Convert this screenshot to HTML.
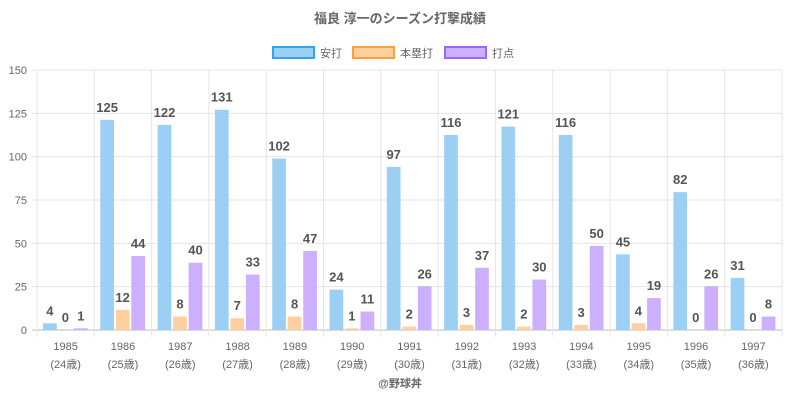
<!DOCTYPE html>
<html><head><meta charset="utf-8"><style>
body{margin:0;background:#fff;}
svg{display:block;font-family:"Liberation Sans","Noto Sans CJK JP",sans-serif;}
</style></head><body>
<svg id="c" width="800" height="400">
<text x="400" y="23" text-anchor="middle" font-size="13" font-weight="bold" fill="#666">福良 淳一のシーズン打撃成績</text>
<g>
<g><rect x="273" y="47" width="41" height="11" fill="#9ccff4" stroke="#36a2eb" stroke-width="2"/><text x="320" y="57" font-size="11" fill="#666">安打</text></g>
<g><rect x="353" y="47" width="41" height="11" fill="#ffcf9f" stroke="#ff9f40" stroke-width="2"/><text x="400" y="57" font-size="11" fill="#666">本塁打</text></g>
<g><rect x="445" y="47" width="41" height="11" fill="#ccb0fe" stroke="#9966ff" stroke-width="2"/><text x="492" y="57" font-size="11" fill="#666">打点</text></g>
</g>
<g id="grid"></g><g id="bars"></g><g id="labels"></g>
<text x="400" y="387" text-anchor="middle" font-size="11" font-weight="bold" fill="#666">@野球丼</text>
</svg>
<script>
const years=["1985","1986","1987","1988","1989","1990","1991","1992","1993","1994","1995","1996","1997"];
const ages=["(24歳)","(25歳)","(26歳)","(27歳)","(28歳)","(29歳)","(30歳)","(31歳)","(32歳)","(33歳)","(34歳)","(35歳)","(36歳)"];
const hits=[4,125,122,131,102,24,97,116,121,116,45,82,31];
const homeruns=[0,12,8,7,8,1,2,3,2,3,4,0,0];
const rbi=[1,44,40,33,47,11,26,37,30,50,19,26,8];
const yTicks=[0,25,50,75,100,125,150];
const L=37,R=782,T=70,B=330,yMax=150;
const barScale=0.97;
const cw=(R-L)/years.length;
const y=v=>B-(v/yMax)*(B-T);
const xc=i=>L+cw*i;
const NS="http://www.w3.org/2000/svg";
function mk(p,tag,at,txt){const e=document.createElementNS(NS,tag);for(const k in at)e.setAttribute(k,at[k]);if(txt!==undefined)e.textContent=txt;p.appendChild(e);return e;}
const g=document.getElementById('grid'),bg=document.getElementById('bars'),lg=document.getElementById('labels');
yTicks.forEach(t=>{
 const l=mk(g,'line',{x1:L-5,x2:R,y1:y(t),y2:y(t),stroke:t===0?'#bbb':'#e5e5e5','stroke-width':1});
 
 
 const tx=mk(g,'text',{x:L-10,y:y(t)+4,'text-anchor':'end','font-size':11,fill:'#666'},t);
 
 
});
for(let i=0;i<=years.length;i++){
 const l=mk(g,'line',{x1:xc(i),x2:xc(i),y1:T,y2:B+7,stroke:'#e5e5e5','stroke-width':1});
 
 
}
const series=[[hits,'#9ccff4'],[homeruns,'#ffcf9f'],[rbi,'#ccb0fe']];
const bw=13.7,offs=[6,21.5,37];
years.forEach((yr,i)=>{
 const t1=mk(lg,'text',{x:xc(i)+cw/2,y:350,'text-anchor':'middle','font-size':11,fill:'#666'},yr);
 
 
 const t2=mk(lg,'text',{x:xc(i)+cw/2,y:368,'text-anchor':'middle','font-size':11,fill:'#666'},ages[i]);
 
 
 series.forEach(([arr,col],s)=>{
  const v=arr[i],x=xc(i)+offs[s],top=y(v*barScale);
  const r=mk(bg,'rect',{x:x,y:top,width:bw,height:B-top,fill:col});
  
  
  const t=mk(lg,'text',{x:x+bw/2,y:top-8,'text-anchor':'middle','font-size':13,'font-weight':'bold',fill:'#555'},v);
  
  
 });
});
</script>
</body></html>
